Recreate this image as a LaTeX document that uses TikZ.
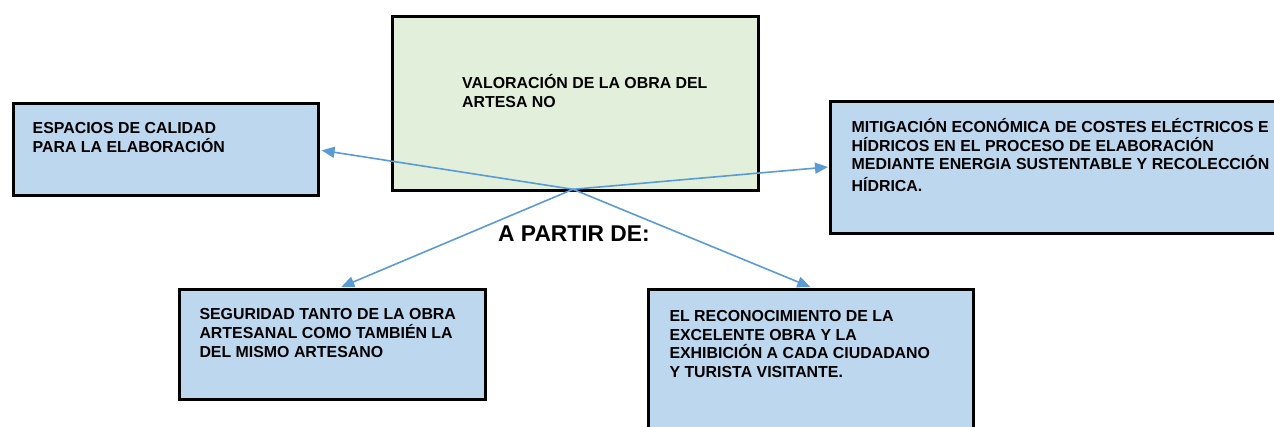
\documentclass[tikz,border=0pt]{standalone}
\usepackage{fontspec}
\setmainfont{Liberation Sans}
\usetikzlibrary{arrows.meta,calc}
\definecolor{boxblue}{HTML}{BDD7EE}
\definecolor{boxgreen}{HTML}{E2EFDA}
\definecolor{arrblue}{HTML}{5B9BD5}
\begin{document}
\begin{tikzpicture}[x=1pt,y=-1pt,
  box/.style={draw=black,line width=2.6pt,inner sep=0pt},
  txt/.style={anchor=base west,align=left,inner sep=0pt,font=\bfseries\fontsize{15.9}{18.8}\selectfont},
  conn/.style={draw=arrblue,line width=1.6pt,-{Triangle[length=13pt,width=11pt]}}]
\useasboundingbox (0,0) rectangle (1274,426);
\begin{scope}
\clip (0,0) rectangle (1274,426);
\node[box,fill=boxgreen,minimum width=366pt,minimum height=174pt,anchor=north west] (top) at (391,15) {};
\node[box,fill=boxblue,minimum width=305pt,minimum height=92pt,anchor=north west] (lb) at (12,102) {};
\node[box,fill=boxblue,minimum width=470pt,minimum height=132pt,anchor=north west] (rb) at (829,100) {};
\node[box,fill=boxblue,minimum width=306pt,minimum height=110pt,anchor=north west] (bl) at (178,288) {};
\node[box,fill=boxblue,minimum width=325pt,minimum height=160pt,anchor=north west] (br) at (647,288) {};
\end{scope}
\node[txt] (ttop) at (462,107) {VALORACIÓN DE LA OBRA DEL\\ARTESA NO};
\node[txt] (tlb) at (32.5,152.3) {ESPACIOS DE CALIDAD\\PARA LA ELABORACIÓN};
\node[txt] (trb) at (851.5,191.7) {MITIGACIÓN ECONÓMICA DE COSTES ELÉCTRICOS E\\HÍDRICOS EN EL PROCESO DE ELABORACIÓN\\MEDIANTE ENERGIA SUSTENTABLE Y RECOLECCIÓN\\[3pt]HÍDRICA.};
\node[txt] (tbl) at (199.3,357.3) {SEGURIDAD TANTO DE LA OBRA\\ARTESANAL COMO TAMBIÉN LA\\DEL MISMO ARTESANO};
\node[txt] (tbr) at (669.3,377.7) {EL RECONOCIMIENTO DE LA\\EXCELENTE OBRA Y LA\\EXHIBICIÓN A CADA CIUDADANO\\Y TURISTA VISITANTE.};
\node[anchor=base west,inner sep=0pt,font=\bfseries\fontsize{22.8}{26}\selectfont] (apd) at (498,241.7) {A PARTIR DE:};
\coordinate (hub) at (573,189.3);
\draw[conn] (hub) -- ($(lb.east)+(2,1)$);
\draw[conn] (hub) -- ($(rb.west |- 0,167)+(-1,0)$);
\draw[conn] (hub) -- ($(bl.north)+(9,-1)$);
\draw[conn] (hub) -- ($(br.north)+(-0.5,-1)$);
\end{tikzpicture}
\end{document}
